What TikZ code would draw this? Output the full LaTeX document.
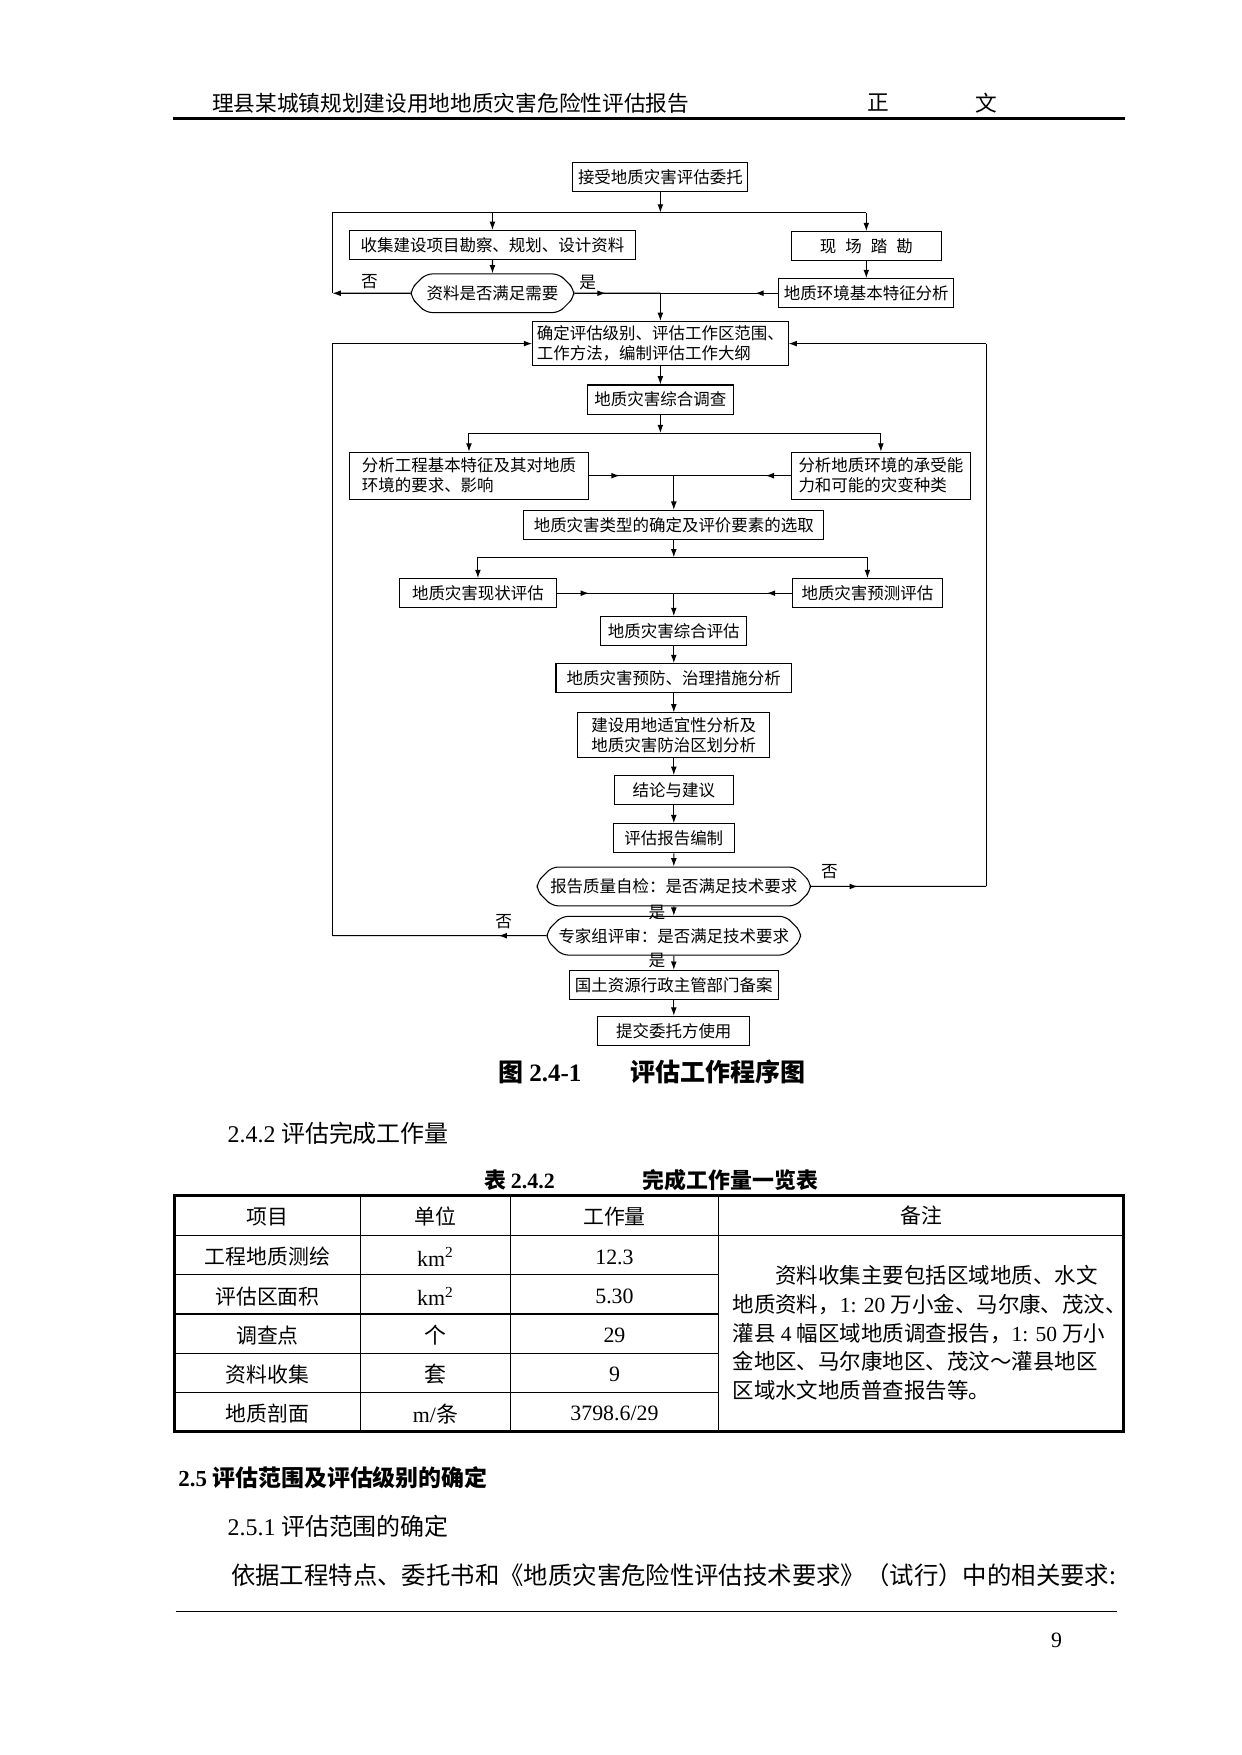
\documentclass[tikz,border=0pt]{standalone}
\usepackage{fontspec}
\setmainfont{Noto Sans CJK SC}
\newfontfamily\tnr{Liberation Serif}
\usetikzlibrary{arrows.meta,shapes.misc,decorations.markings}

\newcommand\fsz{\fontsize{7.9}{9.6}\selectfont}

\tikzset{
  box/.style={draw, inner xsep=2pt, inner ysep=2pt, minimum height=14pt, font=\fsz, align=center},
  judge/.style={box, chamfered rectangle, chamfered rectangle xsep=3.5pt, rounded corners=3pt},
  flow/.style={-{Latex[length=4pt,width=2.8pt]}},
  tipat/.style={postaction={decorate}, decoration={markings,
      mark=at position #1 with {\arrow{Latex[length=4pt,width=2.8pt]}}}},
  lbl/.style={font=\fontsize{8}{8}\selectfont, inner sep=0pt},
  cell/.style={font=\fontsize{10}{12}\selectfont, inner sep=0pt},
  num/.style={font=\tnr\fontsize{10.5}{12}\selectfont, inner sep=0pt}
}

\begin{document}
\begin{tikzpicture}[x=0.5368pt,y=-0.5368pt,line width=0.5pt]
\useasboundingbox (0,0) rectangle (1109,1568);

% page header
\node[anchor=west, inner sep=0pt, font=\fontsize{10.4}{12}\selectfont] (title) at (189,92) {理县某城镇规划建设用地地质灾害危险性评估报告};
\node[inner sep=0pt, font=\fontsize{10.4}{12}\selectfont] (zheng) at (785,92) {正};
\node[inner sep=0pt, font=\fontsize{10.4}{12}\selectfont] (wen) at (881,92) {文};
\draw[line width=1.3pt] (155,106) -- (1005,106);

% flow chart
\node[box, minimum width=84pt] (accept) at (590,158) {接受地质灾害评估委托};
\node[box, minimum width=137pt] (collect) at (440,219) {收集建设项目勘察、规划、设计资料};
\node[box, minimum width=72pt] (survey) at (774,220) {现\hspace{0.55em}场\hspace{0.55em}踏\hspace{0.55em}勘};
\node[judge, minimum width=78pt] (enough) at (440,262) {资料是否满足需要};
\node[box, minimum width=84pt] (envbase) at (774,262) {地质环境基本特征分析};
\node[box, minimum width=121pt, minimum height=20pt, align=left] (grade) at (590,307) {确定评估级别、评估工作区范围、\\工作方法，编制评估工作大纲};
\node[box, minimum width=70pt] (invest) at (590,357) {地质灾害综合调查};
\node[box, minimum width=115pt, minimum height=22.5pt, align=left] (project) at (419,425) {分析工程基本特征及其对地质\\环境的要求、影响};
\node[box, minimum width=86pt, minimum height=22.5pt, align=left] (capacity) at (787,425) {分析地质环境的承受能\\力和可能的灾变种类};
\node[box, minimum width=144pt] (types) at (602,469) {地质灾害类型的确定及评价要素的选取};
\node[box, minimum width=75pt] (present) at (427,530) {地质灾害现状评估};
\node[box, minimum width=72pt] (predict) at (775,530) {地质灾害预测评估};
\node[box, minimum width=70pt] (overall) at (602,564) {地质灾害综合评估};
\node[box, minimum width=113pt] (prevent) at (602,606) {地质灾害预防、治理措施分析};
\node[box, minimum width=92pt, minimum height=21.5pt] (suit) at (602,657) {建设用地适宜性分析及\\地质灾害防治区划分析};
\node[box, minimum width=57pt] (concl) at (602,706) {结论与建议};
\node[box, minimum width=58pt] (compile) at (602,749) {评估报告编制};
\node[judge, minimum width=131pt] (selfchk) at (602,792) {报告质量自检：是否满足技术要求};
\node[judge, minimum width=118pt] (expert) at (602,836) {专家组评审：是否满足技术要求};
\node[box, minimum width=100pt] (record) at (602,880) {国土资源行政主管部门备案};
\node[box, minimum width=73pt] (submit) at (602,921) {提交委托方使用};

\coordinate (topbar) at (590,190);
\coordinate (nwbar) at (297,190);
\coordinate (nebar) at (774,190);
\coordinate (nomark) at (297,262);
\coordinate (mid1) at (590,262);
\coordinate (lloop) at (297,307);
\coordinate (rloop) at (881,307);
\coordinate (bar2) at (590,387);
\coordinate (bar2w) at (419,387);
\coordinate (bar2e) at (787,387);
\coordinate (mid2) at (602,425);
\coordinate (bar3) at (602,498);
\coordinate (bar3w) at (427,498);
\coordinate (bar3e) at (775,498);
\coordinate (mid3) at (602,530);
\coordinate (rback) at (881,792);
\coordinate (lback) at (297,836);

\draw[flow] (accept) -- (topbar);
\draw (nwbar) -- (nebar);
\draw[flow] (collect |- nwbar) -- (collect);
\draw[flow] (nebar) -- (survey);
\draw[flow] (collect) -- (enough);
\draw[flow] (survey) -- (envbase);
\draw[flow] (enough) -- (nomark);
\draw (nomark) -- (nwbar);
\draw[tipat=15pt] (enough) -- (mid1);
\draw[tipat=11pt] (envbase) -- (mid1);
\draw[flow] (mid1) -- (grade);
\draw[flow] (lloop) -- (grade);
\draw[flow] (rloop) -- (grade);
\draw[flow] (grade) -- (invest);
\draw[flow] (invest) -- (bar2);
\draw (bar2w) -- (bar2e);
\draw[flow] (bar2w) -- (project);
\draw[flow] (bar2e) -- (capacity);
\draw[tipat=14.5pt] (project) -- (mid2);
\draw[tipat=12pt] (capacity) -- (mid2);
\draw[flow] (mid2) -- (types);
\draw[flow] (types) -- (bar3);
\draw (bar3w) -- (bar3e);
\draw[flow] (bar3w) -- (present);
\draw[flow] (bar3e) -- (predict);
\draw[tipat=15.5pt] (present) -- (mid3);
\draw[tipat=12pt] (predict) -- (mid3);
\draw[flow] (mid3) -- (overall);
\draw[flow] (overall) -- (prevent);
\draw[flow] (prevent) -- (suit);
\draw[flow] (suit) -- (concl);
\draw[flow] (concl) -- (compile);
\draw[flow] (compile) -- (selfchk);
\draw[flow] (selfchk) -- (expert);
\draw[flow] (expert) -- (record);
\draw[flow] (record) -- (submit);
\draw[tipat=22.5pt] (selfchk) -- (rback);
\draw (rback) -- (rloop);
\draw[tipat=23pt] (expert) -- (lback);
\draw (lback) -- (lloop);

\node[lbl] (no1) at (330,252) {否};
\node[lbl] (yes1) at (525,252) {是};
\node[lbl] (no2) at (741,779) {否};
\node[lbl] (yes2) at (587,815) {是};
\node[lbl] (no3) at (450,823) {否};
\node[lbl] (yes3) at (587,858) {是};

% caption
\node[anchor=west, inner sep=0pt, font=\bfseries\fontsize{12}{14}\selectfont] (figno) at (445,958) {图 {\tnr\bfseries 2.4-1}};
\node[anchor=west, inner sep=0pt, font=\bfseries\fontsize{12}{14}\selectfont] (figname) at (563,958) {评估工作程序图};

% workload
\node[anchor=west, inner sep=0pt, font=\fontsize{11.5}{13}\selectfont] (sec242) at (203,1013) {{\tnr 2.4.2} 评估完成工作量};
\node[anchor=west, inner sep=0pt, font=\bfseries\fontsize{10.5}{12}\selectfont] (tabno) at (432,1054) {表 {\tnr\bfseries 2.4.2}};
\node[anchor=west, inner sep=0pt, font=\bfseries\fontsize{10.5}{12}\selectfont] (tabname) at (574,1054) {完成工作量一览表};

\draw[line width=1.6pt] (156,1068) rectangle (1004,1279);
\draw[line width=0.6pt] (156,1104) -- (1004,1104);
\foreach \y in {1139,1174,1209,1244}
  \draw[line width=0.6pt] (156,\y) -- (642,\y);
\foreach \x in {322,456,642}
  \draw[line width=0.6pt] (\x,1068) -- (\x,1279);

\node[cell] (hitem) at (239,1087) {项目};
\node[cell] (hunit) at (389,1087) {单位};
\node[cell] (hamount) at (549,1087) {工作量};
\node[cell] (hnote) at (823,1086) {备注};
\foreach \item/\unit/\amount [count=\r] in {
    工程地质测绘/{km\textsuperscript{2}}/12.3,
    评估区面积/{km\textsuperscript{2}}/5.30,
    调查点/{\rmfamily 个}/29,
    资料收集/{\rmfamily 套}/9,
    地质剖面/{m/\rmfamily 条}/{3798.6/29}}{
  \node[cell] (item\r) at (239,1088+35*\r) {\item};
  \node[num] (unit\r) at (389,1088+35*\r) {\unit};
  \node[num] (amount\r) at (549,1088+35*\r) {\amount};
}
\node[anchor=west, inner sep=0pt, align=left, font=\fontsize{10.3}{13.8}\selectfont] (note) at (654,1191) {%
  \hspace*{2em}资料收集主要包括区域地质、水文\\
  地质资料，{\tnr 1: 20 }万小金、马尔康、茂汶、\\
  灌县{\tnr\ 4 }幅区域地质调查报告，{\tnr 1: 50 }万小\\
  金地区、马尔康地区、茂汶～灌县地区\\
  区域水文地质普查报告等。};

% assessment scope
\node[anchor=west, inner sep=0pt, font=\bfseries\fontsize{11}{13}\selectfont] (sec25) at (159,1320) {{\tnr\bfseries 2.5} 评估范围及评估级别的确定};
\node[anchor=west, inner sep=0pt, font=\fontsize{11.5}{13}\selectfont] (sec251) at (203,1364) {{\tnr 2.5.1} 评估范围的确定};
\node[anchor=west, inner sep=0pt, font=\fontsize{11.7}{13}\selectfont] (basis) at (206,1407) {依据工程特点、委托书和《地质灾害危险性评估技术要求》（试行）中的相关要求:};

% footer
\draw[line width=0.6pt] (157,1440) -- (998,1440);
\node[inner sep=0pt, font=\tnr\fontsize{10.5}{12}\selectfont] (page) at (944,1466) {9};
\end{tikzpicture}
\end{document}
